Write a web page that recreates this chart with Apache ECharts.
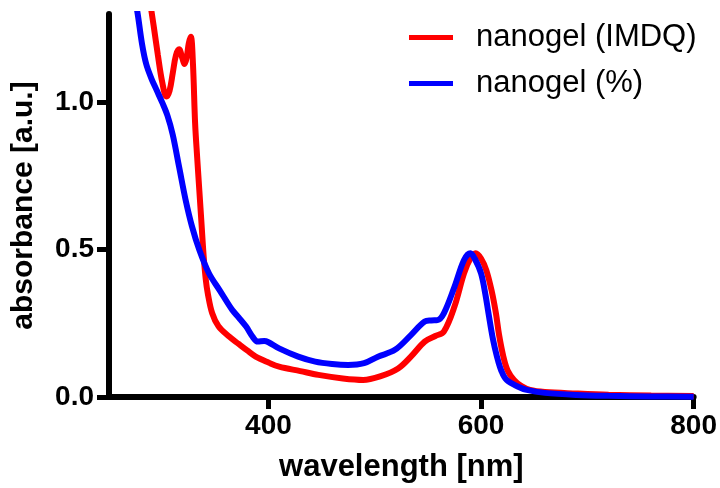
<!DOCTYPE html>
<html>
<head>
<meta charset="utf-8">
<script src="https://cdn.jsdelivr.net/npm/echarts@6/dist/echarts.min.js"></script>
<style>html,body{margin:0;padding:0;background:#fff;}#c{width:720px;height:488px;}</style>
</head>
<body>
<div id="c"></div>
<script>
const seriesNames = ['nanogel (IMDQ)', 'nanogel (%)'];
const xTicks = [400, 600, 800];
const yTicks = [0, 0.5, 1.0];

const imdqWl = [250,260,270,280,287,292,296,300,304,307,310,313,316,319,321,323,325,327,329,331,333,335,337,339,341,343,347,353,363,372,380,388,400,410,430,447,470,489,505,522,534,547,557,565,575,584,590,595,600,605,610,614,617,621,625,631,638,646,660,690,720,760,800];
const imdqAbs = [2.4,2.1,1.8,1.55,1.38,1.26,1.16,1.07,1.02,1.04,1.10,1.16,1.18,1.15,1.13,1.15,1.2,1.223,1.13,0.93,0.81,0.70,0.59,0.48,0.40,0.35,0.285,0.24,0.205,0.18,0.158,0.137,0.117,0.103,0.088,0.075,0.063,0.058,0.07,0.097,0.137,0.188,0.207,0.222,0.307,0.42,0.47,0.488,0.47,0.43,0.36,0.284,0.21,0.137,0.09,0.058,0.037,0.024,0.017,0.012,0.008,0.005,0.003];

const pctWl = [250,260,270,277,281,285,290,295,300,305,310,316,322,328,335,344,354,366,372,379,385,390,396,400,410,428,444,460,475,490,503,519,534,547,553,559,565,575,584,590,594,600,604,607,611,615,619,624,635,643,660,690,720,760,800];
const pctAbs = [2.0,1.7,1.45,1.3,1.2,1.13,1.08,1.04,1.0,0.955,0.89,0.78,0.67,0.58,0.499,0.42,0.363,0.295,0.27,0.239,0.205,0.188,0.19,0.186,0.165,0.137,0.12,0.112,0.109,0.115,0.137,0.16,0.21,0.256,0.26,0.261,0.284,0.374,0.465,0.488,0.47,0.42,0.35,0.284,0.2,0.137,0.09,0.058,0.035,0.024,0.014,0.007,0.004,0.002,0.001];

const zip = (a, b) => a.map((v, i) => [v, b[i]]);
const FONT = '"Liberation Sans", Arial, sans-serif';

const chart = echarts.init(document.getElementById('c'), null, {renderer: 'canvas'});
chart.setOption({
  animation: false,
  backgroundColor: '#ffffff',
  grid: {left: 109, right: 22, top: 14, bottom: 91, containLabel: false},
  legend: {
    orient: 'vertical',
    left: 404, top: 17,
    itemWidth: 44, itemHeight: 5, itemGap: 15,
    icon: 'rect',
    data: seriesNames,
    textStyle: {fontFamily: FONT, fontSize: 31, color: '#000', padding: [0, 0, 0, 18]}
  },
  xAxis: {
    type: 'value', min: 250, max: 800,
    splitLine: {show: false},
    axisLine: {lineStyle: {color: '#000', width: 6}},
    axisTick: {show: true, length: 12, lineStyle: {color: '#000', width: 5}, customValues: xTicks},
    axisLabel: {customValues: xTicks, color: '#000', fontFamily: FONT, fontWeight: 'bold', fontSize: 28, margin: 15},
    name: 'wavelength [nm]', nameLocation: 'middle', nameGap: 55,
    nameTextStyle: {fontFamily: FONT, fontWeight: 'bold', fontSize: 31, color: '#000'}
  },
  yAxis: {
    type: 'value', min: 0, max: 1.3,
    splitLine: {show: false},
    axisLine: {show: true, onZero: false, lineStyle: {color: '#000', width: 6}},
    axisTick: {show: true, length: 12, lineStyle: {color: '#000', width: 5}, customValues: yTicks},
    axisLabel: {customValues: yTicks, formatter: v => v.toFixed(1), color: '#000', fontFamily: FONT, fontWeight: 'bold', fontSize: 28, margin: 15},
    name: 'absorbance [a.u.]', nameLocation: 'middle', nameGap: 70, nameRotate: 90,
    nameTextStyle: {fontFamily: FONT, fontWeight: 'bold', fontSize: 30, color: '#000'}
  },
  series: [
    {name: seriesNames[0], type: 'line', data: zip(imdqWl, imdqAbs), showSymbol: false, smooth: 0.35, clip: true,
     itemStyle: {color: '#ff0000'}, lineStyle: {color: '#ff0000', width: 6}, z: 2},
    {name: seriesNames[1], type: 'line', data: zip(pctWl, pctAbs), showSymbol: false, smooth: 0.35, clip: true,
     itemStyle: {color: '#0000ff'}, lineStyle: {color: '#0000ff', width: 6}, z: 3}
  ]
});
</script>
</body>
</html>
